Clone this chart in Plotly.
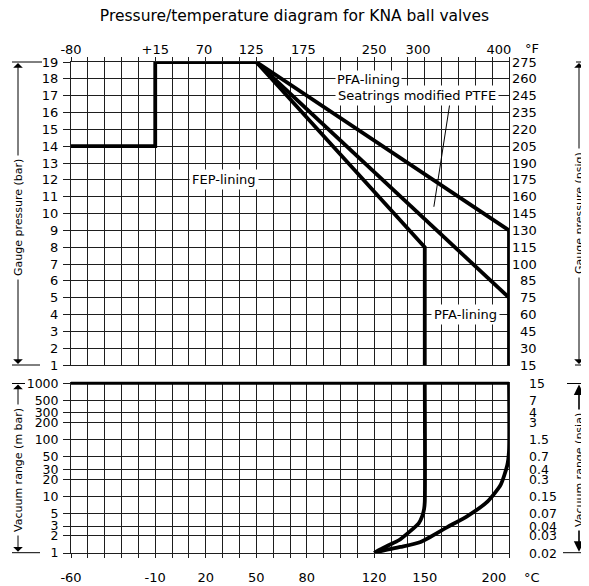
import numpy as np
import plotly.graph_objects as go

# ---------------- data ----------------
bar_ticks = list(range(1, 20))
psig_labels = ["15", "30", "45", "60", "75", "85", "100", "115", "130", "145",
               "160", "175", "190", "205", "220", "235", "245", "260", "275"]
mbar_ticks = [1, 2, 3, 5, 10, 20, 30, 50, 100, 200, 300, 500, 1000]
psia_labels = ["0.02", "0.03", "0.04", "0.07", "0.15", "0.3", "0.4", "0.7",
               "1.5", "3", "4", "7", "15"]
degC_labels = ["-60", "-10", "20", "50", "80", "120", "150", "200"]
degC_pos = [-60, -10, 20, 50, 80, 120, 150, 191]
degF_labels = ["-80", "+15", "70", "125", "175", "250", "300", "400"]
degF_pos = [-60, -10, 19, 47, 78, 120, 146, 194]

# gauge pressure (bar) vs temperature (°C)
fep_T = [-60, -10, -10, 50, 150, 150]
fep_P = [14, 14, 19, 19, 8, 1]
pfa_seat_T = [50, 200, 200]
pfa_seat_P = [19, 9, 1]
pfa_T = [50, 200]
pfa_P = [19, 5]

# vacuum (mbar) vs temperature (°C)
fep_vac_T = [150, 150, 149.6, 148.5, 146.4, 140.5, 134.6, 128.6, 122.7, 120]
fep_vac_V = [1000, 8, 6, 4.5, 3.35, 2.32, 1.68, 1.37, 1.12, 1]
pfa_vac_T = [200, 200, 199, 195.1, 187.2, 175.3, 163.4, 147.5, 135.6, 123.8, 120]
pfa_vac_V = [1000, 64, 36, 16.2, 8.1, 4.5, 2.87, 1.57, 1.28, 1.08, 1]

# ---------------- figure ----------------
OFF = 8  # page body margin
W, H = 589 - OFF, 586 - OFF
ML, MR, MT, MB = 71 - OFF, 80, 62 - OFF, 33
PW, PH = W - ML - MR, H - MT - MB
FONT = "DejaVu Sans"
GRID = "#1e1e1e"
LW = 3.8


def xp(px):
    return (px - 71) / PW


def yp(py):
    return (553 - py) / PH


fig = go.Figure()
line_style = dict(color="black", width=LW)
fig.add_trace(go.Scatter(x=fep_T, y=fep_P, mode="lines", line=line_style, xaxis="x", yaxis="y"))
fig.add_trace(go.Scatter(x=pfa_seat_T, y=pfa_seat_P, mode="lines", line=line_style, xaxis="x", yaxis="y"))
fig.add_trace(go.Scatter(x=pfa_T, y=pfa_P, mode="lines", line=line_style, xaxis="x", yaxis="y"))
fig.add_trace(go.Scatter(x=fep_vac_T, y=fep_vac_V, mode="lines",
                         line=dict(color="black", width=LW, shape="spline", smoothing=0.6),
                         xaxis="x2", yaxis="y2"))
fig.add_trace(go.Scatter(x=pfa_vac_T, y=pfa_vac_V, mode="lines",
                         line=dict(color="black", width=LW, shape="spline", smoothing=0.6),
                         xaxis="x2", yaxis="y2"))

top_dom = [yp(365), 1]
bot_dom = [0, yp(383.3)]

minor = dict(tick0=-60, dtick=10, ticks="outside", ticklen=4, tickcolor=GRID,
             showgrid=True, gridcolor=GRID, gridwidth=1)
tickfont = dict(family=FONT, size=13, color="black")
vfont = dict(family=FONT, size=12.5, color="black")

fig.update_layout(
    width=W, height=H, margin=dict(l=ML, r=MR, t=MT, b=MB, autoexpand=False),
    paper_bgcolor="white", plot_bgcolor="white", showlegend=False,
    title=dict(text="Pressure/temperature diagram for KNA ball valves",
               x=0.5 - OFF / 2 / W, xref="container", xanchor="center",
               y=1 - (16 - OFF) / H, yref="container", yanchor="middle",
               font=dict(family=FONT, size=15.5, color="black")),
    xaxis=dict(domain=[0, 1], anchor="y", side="top", range=[-60, 200],
               tickmode="array", tickvals=degF_pos, ticktext=degF_labels,
               ticks="", showgrid=False, zeroline=False, minor=minor,
               showline=True, mirror=True, linecolor=GRID, linewidth=1,
               tickfont=tickfont, ticklabelstandoff=2, automargin=False),
    xaxis2=dict(domain=[0, 1], anchor="y2", side="bottom", range=[-60, 200],
                matches="x",
                tickmode="array", tickvals=degC_pos, ticktext=degC_labels,
                ticks="", showgrid=False, zeroline=False, minor=minor,
                showline=True, mirror=True, linecolor=GRID, linewidth=1,
                tickfont=tickfont, ticklabelstandoff=12, automargin=False),
    yaxis=dict(domain=top_dom, anchor="x", range=[1, 19],
               tickmode="array", tickvals=bar_ticks,
               ticks="outside", ticklen=7, tickcolor=GRID,
               showgrid=True, gridcolor=GRID, gridwidth=1, zeroline=False,
               showline=True, mirror=True, linecolor=GRID, linewidth=1,
               tickfont=tickfont, ticklabelstandoff=2, automargin=False),
    yaxis2=dict(domain=bot_dom, anchor="x2", type="log", range=[0, 3],
                tickmode="array", tickvals=mbar_ticks,
                ticktext=[str(v) for v in mbar_ticks],
                ticks="outside", ticklen=7, tickcolor=GRID,
                showgrid=True, gridcolor=GRID, gridwidth=1, zeroline=False,
                showline=True, mirror=True, linecolor=GRID, linewidth=1,
                tickfont=vfont, ticklabelstandoff=2, automargin=False),
)

shapes = []
annos = []

# thick top border of vacuum panel
shapes.append(dict(type="line", xref="x2 domain", yref="y2 domain",
                   x0=0, x1=1, y0=1, y1=1, line=dict(color="black", width=3)))

# leader line from the upper label to the lines
shapes.append(dict(type="line", xref="x", yref="y", x0=164.9, y0=16.55,
                   x1=155.4, y1=10.4, line=dict(color="black", width=1)))

# right-hand labels
for v, lab in zip(bar_ticks, psig_labels):
    annos.append(dict(xref="paper", yref="y", x=xp(539), y=v, text=lab,
                      showarrow=False, xanchor="right", yanchor="middle",
                      font=tickfont))
for v, lab in zip(mbar_ticks, psia_labels):
    annos.append(dict(xref="paper", yref="y2", x=xp(527), y=np.log10(v), text=lab,
                      showarrow=False, xanchor="left", yanchor="middle",
                      font=vfont))

# unit labels
annos.append(dict(xref="paper", yref="paper", x=xp(523), y=yp(48), text="°F",
                  showarrow=False, xanchor="left", yanchor="middle", font=tickfont))
annos.append(dict(xref="paper", yref="paper", x=xp(522), y=yp(577), text="°C",
                  showarrow=False, xanchor="left", yanchor="middle", font=tickfont))

# in-plot labels
lab_font = dict(family=FONT, size=13, color="black")
annos.append(dict(xref="x", yref="y", x=31, y=12, text="FEP-lining", showarrow=False,
                  bgcolor="white", font=lab_font, borderpad=2))
annos.append(dict(xref="x", yref="y", x=174, y=4, text="PFA-lining", showarrow=False,
                  bgcolor="white", font=lab_font, borderpad=2))
annos.append(dict(xref="x", yref="y", x=97, y=17, text="Seatrings modified PTFE",
                  showarrow=False, xanchor="left", bgcolor="white", font=lab_font,
                  borderpad=2))
annos.append(dict(xref="x", yref="y", x=97, y=17.95, text="PFA-lining",
                  showarrow=False, xanchor="left", bgcolor="white", font=lab_font,
                  borderpad=1))

# side brackets with arrows
side_font = dict(family=FONT, size=11, color="black")


def bracket(xc, ytop, ybot, bar_top, bar_bot, text, ytext, bold=False):
    shapes.append(dict(type="line", xref="paper", yref="paper",
                       x0=xp(bar_top[0]), x1=xp(bar_top[1]), y0=yp(ytop), y1=yp(ytop),
                       line=dict(color="black", width=1)))
    shapes.append(dict(type="line", xref="paper", yref="paper",
                       x0=xp(bar_bot[0]), x1=xp(bar_bot[1]), y0=yp(ybot), y1=yp(ybot),
                       line=dict(color="black", width=1)))
    half = (ybot - ytop) / 2
    aw = 1.6 if bold else 1
    ah = 2 if bold else 1
    asz = 1.3 if bold else 1.6
    annos.append(dict(xref="paper", yref="paper", x=xp(xc), y=yp(ytop + 1), text="",
                      showarrow=True, ax=0, ay=half, arrowhead=ah, arrowsize=asz,
                      arrowwidth=aw, arrowcolor="black"))
    annos.append(dict(xref="paper", yref="paper", x=xp(xc), y=yp(ybot - 1), text="",
                      showarrow=True, ax=0, ay=-half, arrowhead=ah, arrowsize=asz,
                      arrowwidth=aw, arrowcolor="black"))
    annos.append(dict(xref="paper", yref="paper", x=xp(xc), y=yp(ytext), text=text,
                      showarrow=False, textangle=-90, bgcolor="white", borderpad=3,
                      xanchor="center", yanchor="middle", font=side_font))


bracket(18, 62, 365, (12, 42), (12, 40), "Gauge pressure (bar)", 218)
bracket(579, 62, 365, (576, 589), (575, 589), "Gauge pressure (psig)", 213)
bracket(18, 383.5, 552.7, (12, 25), (12, 40), "Vacuum range (m bar)", 470)
bracket(579, 383.5, 552.7, (567, 589), (563, 588), "Vacuum range (psia)", 470, bold=True)

fig.update_layout(shapes=shapes, annotations=annos)
fig.write_html("out.html")
